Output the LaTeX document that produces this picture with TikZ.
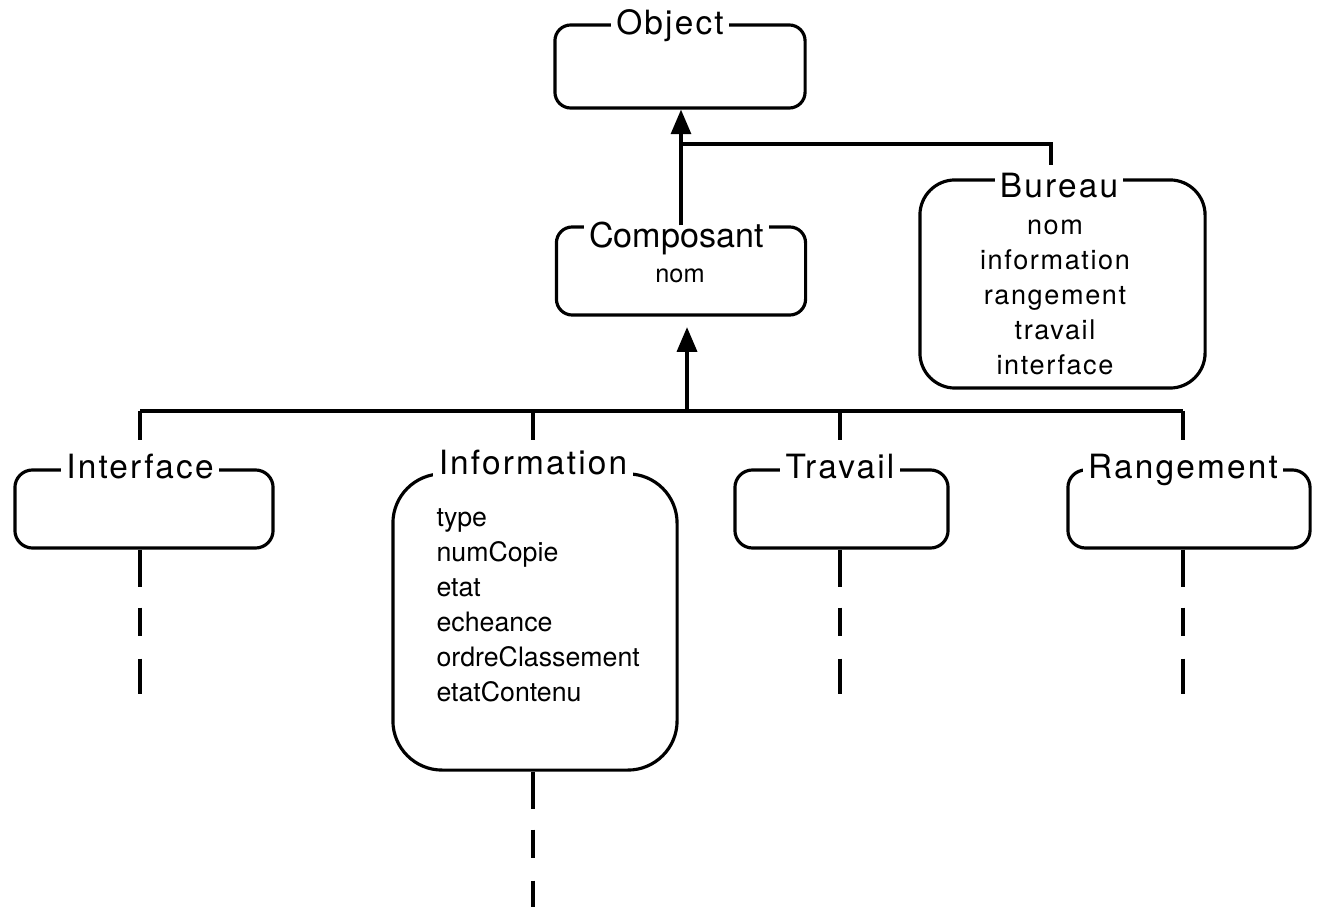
\documentclass[tikz,border=0pt]{standalone}
\usepackage{fontspec}
\setmainfont{TeX Gyre Heros}
\newfontfamily\spacedfont[LetterSpace=6.5]{TeX Gyre Heros}
\newfontfamily\attfont[LetterSpace=6]{TeX Gyre Heros}
\usetikzlibrary{arrows.meta,positioning}
\begin{document}
\begin{tikzpicture}[x=0.01cm,y=-0.01cm,line width=0.9pt,
  cls/.style={draw,rounded corners=#1,inner sep=0pt},
  ttl/.style={fill=white,inner xsep=1.5pt,inner ysep=0.5pt,anchor=base,font=\spacedfont\fontsize{9.5}{11}\selectfont},
  att/.style={inner sep=0pt,anchor=base west,font=\fontsize{7.6}{9}\selectfont},
  batt/.style={inner sep=0pt,anchor=base,font=\attfont\fontsize{7.7}{9}\selectfont},
  inh/.style={-{Triangle[length=7pt,width=5.7pt]}},
  cont/.style={dash pattern=on 10.5pt off 6pt on 8pt off 6.5pt}]
\useasboundingbox (0,0) rectangle (1318,907);
\node[cls=4.5pt,minimum width=2.5cm,minimum height=0.83cm] (obj) at (680,66.5) {};
\node[cls=4.5pt,minimum width=2.49cm,minimum height=0.88cm] (comp) at (681,271) {};
\node[cls=10pt,minimum width=2.85cm,minimum height=2.08cm] (bur) at (1062.5,284) {};
\foreach \n/\x/\w in {int/144/2.58,trv/841.5/2.13,rng/1189/2.42}
  \node[cls=5pt,minimum width=\w cm,minimum height=0.78cm] (\n) at (\x,509) {};
\node[cls=14pt,minimum width=2.84cm,minimum height=2.96cm] (inf) at (535,622) {};

\node[ttl] (t-obj) at (670,35) {Object};
\node[ttl,font=\fontsize{9.7}{11}\selectfont] (t-comp) at (676.5,248) {Composant};
\node[ttl] (t-bur) at (1059,198) {Bureau};
\node[ttl] (t-int) at (140,479) {Interface};
\node[ttl] (t-inf) at (533,475) {Information};
\node[ttl] (t-trv) at (840,479) {Travail};
\node[ttl] (t-rng) at (1183,479) {Rangement};

\node[inner sep=0pt,anchor=base,font=\fontsize{7.2}{9}\selectfont] (a-comp) at (680,283) {nom};
\foreach \a [count=\i] in {nom,information,rangement,travail,interface}
  \node[batt] (a-bur\i) at (1055,{200+35*\i}) {\a};
\foreach \a [count=\i] in {type,numCopie,etat,echeance,ordreClassement,etatContenu}
  \node[att] (a-inf\i) at (435,{492+35*\i}) {\a};

\coordinate (jb) at (681,144);
\coordinate (bus) at (687,411);
\coordinate (drop) at (0,440);
\coordinate (cut) at (0,694);
\coordinate (bottom) at (0,907);
\draw[inh] (comp.north) -- (comp.north |- obj.south);
\draw (jb) -| ([xshift=-0.08cm,yshift=1.5pt]t-bur.north);
\draw[inh,shorten >=3pt] (bus) -- (bus |- comp.south);
\draw (t-int.north |- bus) -- (t-rng.north |- bus);
\foreach \n in {int,inf,trv,rng}
  \draw (t-\n.north |- bus) -- (t-\n.north |- drop);
\foreach \n in {int,trv,rng}
  \draw[cont] (t-\n |- \n.south) -- (t-\n |- cut);
\draw[cont] (t-inf |- inf.south) -- (t-inf |- bottom);
\end{tikzpicture}
\end{document}
